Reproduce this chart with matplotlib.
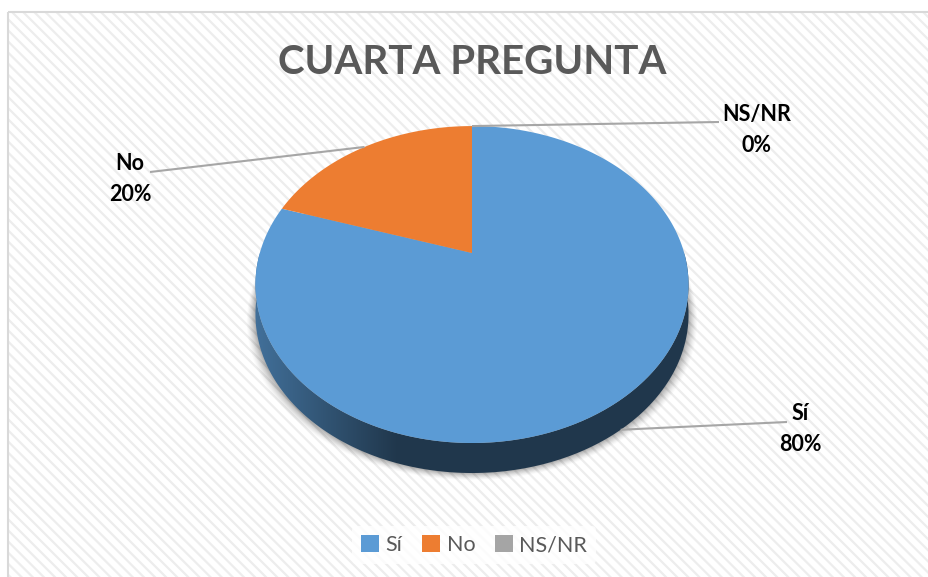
import matplotlib
matplotlib.use("Agg")
import matplotlib.pyplot as plt
import numpy as np
from matplotlib.patches import Rectangle, Patch, Polygon

plt.rcParams['font.family'] = ['Lato', 'DejaVu Sans']
plt.rcParams['hatch.linewidth'] = 1.6

# -- data ----------------------------------------------------------------------
categories = ["Sí", "No", "NS/NR"]
values = [80, 20, 0]
colors = ["#5B9BD5", "#ED7D31", "#A5A5A5"]
title = "CUARTA PREGUNTA"

# -- 3D pie geometry (pixel space) ---------------------------------------------
W, H = 929, 577
CX, CY = 472, 253          # projected pie centre
SX, SY = 212.2, 152.2      # scale of the tilted disc
PERSP = 0.199              # perspective strength (far edge smaller)
DEPTH = 30                 # thickness of the pie


def proj(theta_deg, drop=0.0):
    t = np.radians(theta_deg)
    u, v = np.cos(t), np.sin(t)
    d = 1 + PERSP * v
    return CX + SX * u / d, CY - SY * v / d + drop


def shade(hexcol, f):
    c = np.array(matplotlib.colors.to_rgb(hexcol))
    return np.clip(c * f, 0, 1)


fig = plt.figure(figsize=(W / 100, H / 100), dpi=100)
ax = fig.add_axes([0, 0, 1, 1])
ax.set_xlim(0, W)
ax.set_ylim(H, 0)
ax.axis("off")

# chart area background with faint diagonal stripes
ax.add_patch(Rectangle((8, 12), W, H, facecolor="white", edgecolor="#ededed",
                       hatch="\\\\\\", lw=0, zorder=0))
ax.add_patch(Rectangle((8, 12), W, H, facecolor="none", edgecolor="#d9d9d9",
                       lw=1.5, zorder=0.5))

# slice angle ranges: start at 12 o'clock, go clockwise
total = sum(values)
starts, ends = [], []
a = 90.0
for v in values:
    starts.append(a)
    a -= 360.0 * v / total
    ends.append(a)

# soft shadow under the pie
ring = np.linspace(0, 360, 361)
for k, alpha in zip(range(10, 0, -1), np.linspace(0.015, 0.05, 10)):
    sx, sy = proj(ring, drop=DEPTH)
    ax.fill(CX + (sx - CX) * (1 + k * 0.004), sy + k * 0.7, color="black",
            alpha=alpha, lw=0, zorder=1)

# side wall: front part of each slice, filled with a left-to-right gradient
xs = np.linspace(CX - 220, CX + 220, 300)
xr = (xs - CX) / 216.5
fac = 0.36 + 0.36 * np.clip((-xr - 0.35) / 0.65, 0, 1)
for cat, col, s, e in zip(categories, colors, starts, ends):
    if s == e:
        continue
    lo, hi = min(s, e), max(s, e)
    # the visible wall lies in the front half (180..360 deg)
    segs = []
    for off in (-360, 0):
        a0, a1 = max(lo, 180 + off), min(hi, 360 + off)
        if a1 > a0:
            segs.append((a0, a1))
    for a0, a1 in segs:
        th = np.linspace(a0, a1, 200)
        tx, ty = proj(th)
        bx, by = proj(th[::-1], drop=DEPTH)
        poly = Polygon(np.c_[np.r_[tx, bx], np.r_[ty, by]], closed=True,
                       facecolor="none", edgecolor="none")
        ax.add_patch(poly)
        grad = np.array([shade(col, f) for f in fac])[None, :, :]
        im = ax.imshow(grad, extent=(xs[0], xs[-1], 480, 250), aspect="auto",
                       interpolation="bilinear", zorder=2)
        im.set_clip_path(poly)

# top face
for cat, col, s, e in zip(categories, colors, starts, ends):
    if s == e:
        continue
    th = np.linspace(s, e, 200)
    px, py = proj(th)
    ax.fill(np.r_[CX, px], np.r_[CY, py], color=col, lw=0, zorder=3)

ax.set_xlim(0, W)
ax.set_ylim(H, 0)

# data labels with leader lines
lab_pos = {"Sí": (800, 429), "No": (130, 179), "NS/NR": (757, 130)}
line_end = {"Sí": (787, 422), "No": (150, 172), "NS/NR": (719, 122)}
for cat, v, s, e in zip(categories, values, starts, ends):
    mid = 0.5 * (s + e)
    mx, my = proj(mid)
    if np.sin(np.radians(mid)) < -0.3:
        my += DEPTH
    lx, ly = line_end[cat]
    ax.plot([mx, lx], [my, ly], color="#a6a6a6", lw=1.5, zorder=4,
            solid_capstyle="butt")
    tx, ty = lab_pos[cat]
    ax.text(tx, ty, f"{cat}\n{v / total:.0%}", ha="center", va="center",
            fontsize=15.5, fontweight="bold", color="black", linespacing=1.55,
            zorder=5)

ax.text(472, 62, title, ha="center", va="center", fontsize=29,
        fontweight="bold", color="#595959", zorder=5)

handles = [Patch(facecolor=c, edgecolor="none", label=n)
           for n, c in zip(categories, colors)]
leg = ax.legend(handles=handles, loc="center", bbox_to_anchor=(474 / W, 1 - 545 / H),
                ncol=3, frameon=True, fontsize=15.5, handlelength=0.85,
                handleheight=0.85, handletextpad=0.3, columnspacing=0.9,
                borderpad=0.4)
leg.get_frame().set_facecolor("white")
leg.get_frame().set_edgecolor("none")
leg.get_frame().set_alpha(0.8)
for t in leg.get_texts():
    t.set_color("#595959")

fig.savefig("out.png", dpi=100)
